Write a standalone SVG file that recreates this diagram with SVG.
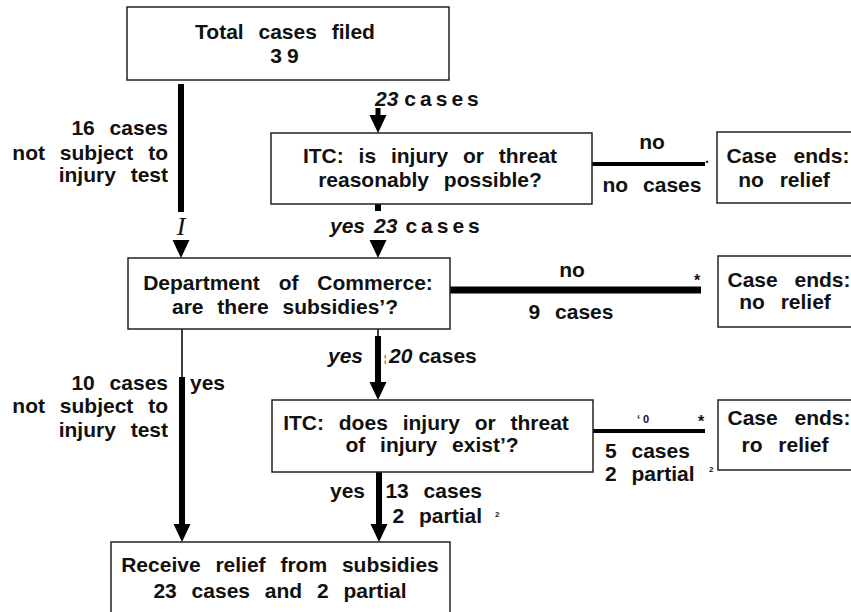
<svg xmlns="http://www.w3.org/2000/svg" xmlns:xlink="http://www.w3.org/1999/xlink" width="851" height="612" viewBox="0 0 851 612">
<style>
.box{fill:#fff;stroke:#222;stroke-width:1.5}
text{font-family:"Liberation Sans",Arial,sans-serif;font-weight:bold;font-size:21px;fill:#111}
.m{text-anchor:middle;word-spacing:9px}
.e{text-anchor:end;word-spacing:9px}
.s{word-spacing:9px}
.it{font-style:italic}
.ls{letter-spacing:4px}
.sm{font-size:8px}
.ast{font-size:16px}
.ln{stroke:#000;fill:none}
</style>
<defs>
<path id="head" d="M-8.5,-18 L8.5,-18 L0,0 Z" fill="#000"/>
</defs>
<rect width="851" height="612" fill="#fff"/>

<g id="connectors">
<line class="ln" x1="181" y1="84" x2="181" y2="212" stroke-width="6"/>
<line class="ln" x1="181" y1="240" x2="181" y2="244" stroke-width="2"/>
<use xlink:href="#head" x="181" y="258"/>
<line class="ln" x1="378" y1="108" x2="378" y2="116" stroke-width="5"/>
<use xlink:href="#head" x="378" y="133"/>
<line class="ln" x1="592" y1="164" x2="705" y2="164" stroke-width="4"/>
<line class="ln" x1="378" y1="204" x2="378" y2="211" stroke-width="6"/>
<use xlink:href="#head" x="378" y="258"/>
<line class="ln" x1="450" y1="290" x2="701" y2="290" stroke-width="7"/>
<line class="ln" x1="182" y1="329" x2="182" y2="378" stroke-width="1.5"/>
<line class="ln" x1="182" y1="377" x2="182" y2="527" stroke-width="6"/>
<use xlink:href="#head" x="182" y="542"/>
<line class="ln" x1="378" y1="329" x2="378" y2="340" stroke-width="1.5"/>
<line class="ln" x1="378" y1="336" x2="378" y2="384" stroke-width="6"/>
<use xlink:href="#head" x="378" y="400"/>
<line class="ln" x1="593" y1="431" x2="705" y2="431" stroke-width="4"/>
<line class="ln" x1="379" y1="472" x2="379" y2="527" stroke-width="6"/>
<use xlink:href="#head" x="379" y="542"/>
</g>

<g id="top">
<rect class="box" x="127" y="7" width="322" height="73"/>
<text class="m" x="285" y="39">Total cases filed</text>
<text class="m" x="287" y="63" style="letter-spacing:5px">39</text>
</g>

<g id="itc1">
<rect class="box" x="271" y="133" width="321" height="71"/>
<text class="m" x="430" y="163">ITC: is injury or threat</text>
<text class="m" x="430" y="187">reasonably possible?</text>
</g>

<g id="end1">
<rect class="box" x="717" y="132" width="140" height="71"/>
<text class="m" x="788" y="163" style="word-spacing:11px">Case ends:</text>
<text class="m" x="784" y="187" style="word-spacing:10px">no relief</text>
</g>

<g id="dept">
<rect class="box" x="128" y="258" width="322" height="71"/>
<text class="m" x="288" y="290" style="word-spacing:13px">Department of Commerce:</text>
<text class="m" x="285" y="314" style="word-spacing:8px">are there subsidies’?</text>
</g>

<g id="end2">
<rect class="box" x="718" y="256" width="140" height="71"/>
<text class="m" x="789" y="287" style="word-spacing:11px">Case ends:</text>
<text class="m" x="785" y="309" style="word-spacing:10px">no relief</text>
</g>

<g id="itc2">
<rect class="box" x="272" y="400" width="321" height="72"/>
<text class="m" x="426" y="430">ITC: does injury or threat</text>
<text class="m" x="432" y="452">of injury exist’?</text>
</g>

<g id="end3">
<rect class="box" x="718" y="400" width="140" height="70"/>
<text class="m" x="789" y="425" style="word-spacing:11px">Case ends:</text>
<text class="m" x="785" y="452" style="word-spacing:10px">ro relief</text>
</g>

<g id="relief">
<rect class="box" x="111" y="542" width="339" height="80"/>
<text class="m" x="280" y="572">Receive relief from subsidies</text>
<text class="m" x="280" y="598">23 cases and 2 partial</text>
</g>

<g id="labels">
<text x="375" y="106"><tspan class="it">23</tspan><tspan class="ls" dx="6">cases</tspan></text>
<text class="e" x="168" y="135">16 cases</text>
<text class="e" x="168" y="160">not subject to</text>
<text class="e" x="168" y="182">injury test</text>
<text x="181" y="235" style="font-family:'Liberation Serif',serif;font-style:italic;font-weight:normal;font-size:26px;text-anchor:middle">I</text>
<text class="m" x="652" y="149">no</text>
<text class="m" x="652" y="192">no cases</text>
<text x="705" y="163" style="font-size:14px">.</text>
<text x="330" y="233"><tspan class="it">yes</tspan><tspan class="it" dx="9">23</tspan><tspan class="ls" dx="8">cases</tspan></text>
<text class="m" x="572" y="277">no</text>
<text class="m" x="571" y="319">9 cases</text>
<text class="ast" x="694" y="286">*</text>
<text class="e" x="168" y="390">10 cases</text>
<text class="e" x="168" y="413">not subject to</text>
<text class="e" x="168" y="437">injury test</text>
<text x="190" y="390">yes</text>
<text x="328" y="363"><tspan class="it">yes</tspan><tspan class="it" dx="26">20</tspan><tspan dx="6">cases</tspan></text>
<text x="384" y="362" style="font-size:9px;font-weight:normal">¦</text>
<text x="637" y="423" style="font-size:11px">‘ 0</text>
<text class="ast" x="698" y="427">*</text>
<text class="s" x="605" y="458">5 cases</text>
<text class="s" x="605" y="481">2 partial</text>
<text class="sm" x="709" y="472">2</text>
<text x="330" y="498">yes</text>
<text class="e" x="482" y="498">13 cases</text>
<text class="e" x="482" y="523">2 partial</text>
<text class="sm" x="495" y="517">2</text>
</g>
</svg>
